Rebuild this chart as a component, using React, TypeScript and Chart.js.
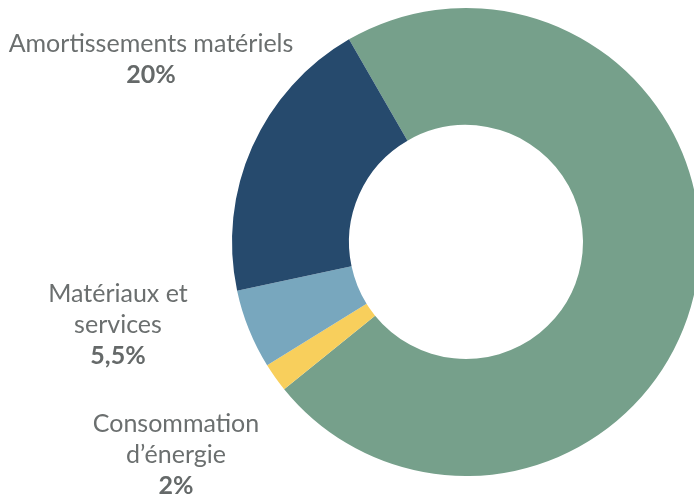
import React, { useEffect, useRef } from "react";
import { Chart, registerables } from "chart.js";

Chart.register(...registerables);

const categories = ["Autres", "Consommation d’énergie", "Matériaux et services", "Amortissements matériels"];
const values = [72.5, 2, 5.5, 20];
const colors = ["#76a08b", "#f8cf5c", "#78a7be", "#264a6d"];
const labelLines = [
  { lines: ["Amortissements matériels"], pct: "20%", x: 151, y: 52 },
  { lines: ["Matériaux et", "services"], pct: "5,5%", x: 118, y: 302 },
  { lines: ["Consommation", "d’énergie"], pct: "2%", x: 176, y: 432 },
];

const FONT = "Lato, 'Open Sans', sans-serif";

const labelPlugin = {
  id: "sideLabels",
  afterDraw(chart: any) {
    const ctx = chart.ctx;
    ctx.save();
    ctx.textAlign = "center";
    ctx.textBaseline = "alphabetic";
    for (const l of labelLines) {
      let y = l.y;
      ctx.fillStyle = "#6b6f6f";
      ctx.font = `400 25px ${FONT}`;
      for (const t of l.lines) {
        ctx.fillText(t, l.x, y);
        y += 31;
      }
      ctx.fillStyle = "#656969";
      ctx.font = `700 25px ${FONT}`;
      ctx.fillText(l.pct, l.x, y);
    }
    ctx.restore();
  },
};

export default function App() {
  const ref = useRef<HTMLCanvasElement>(null);
  useEffect(() => {
    if (!ref.current) return;
    const chart = new Chart(ref.current, {
      type: "doughnut",
      data: {
        labels: categories,
        datasets: [
          {
            data: values,
            backgroundColor: colors,
            borderWidth: 0,
          },
        ],
      },
      options: {
        animation: false,
        responsive: false,
        maintainAspectRatio: false,
        rotation: -30,
        cutout: "50%",
        layout: { padding: { left: 232, right: 20, top: 8, bottom: 19 } },
        plugins: {
          legend: { display: false },
          tooltip: { enabled: false },
        },
      },
      plugins: [labelPlugin],
    });
    return () => chart.destroy();
  }, []);
  return (
    <div style={{ position: "fixed", left: 0, top: 0, width: 694, height: 495, overflow: "hidden", background: "#fff" }}>
      <canvas ref={ref} width={720} height={495} style={{ display: "block", width: 720, height: 495 }} />
    </div>
  );
}
